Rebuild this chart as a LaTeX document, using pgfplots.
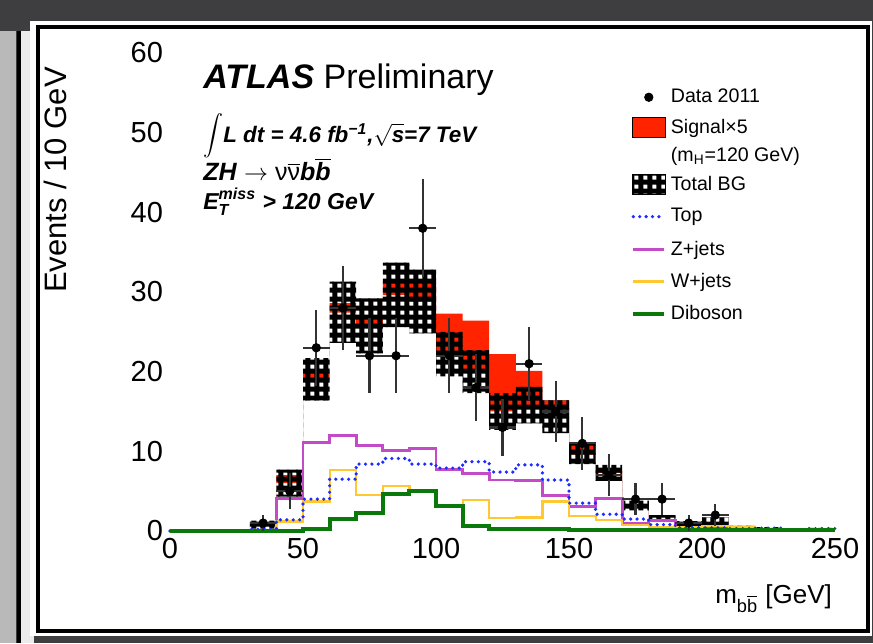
\documentclass[border=0pt]{standalone}
\usepackage{fontspec}
\setmainfont{Liberation Sans}
\usepackage{graphicx}
\usepackage{pgfplots}
\pgfplotsset{compat=1.18}
\usepackage{pgfplotstable}
\usepgfplotslibrary{fillbetween}
\usetikzlibrary{patterns}

\definecolor{sigred}{RGB}{255,35,0}
\definecolor{zmag}{RGB}{195,75,200}
\definecolor{topblue}{RGB}{30,45,255}
\definecolor{wyellow}{RGB}{255,200,50}
\definecolor{dibgreen}{RGB}{10,120,10}
\definecolor{bgdark}{RGB}{62,62,64}

% black grid with white holes for the background uncertainty band;
% the bars overlap the tile edge so that no seams show between tiles
\pgfdeclarepatternformonly{bggrid}{\pgfqpoint{-0.3pt}{-0.3pt}}{\pgfqpoint{4.8pt}{4.8pt}}{\pgfqpoint{4.5pt}{4.5pt}}{%
  \pgfpathrectangle{\pgfqpoint{-0.3pt}{-0.3pt}}{\pgfqpoint{5.1pt}{2.5pt}}%
  \pgfpathrectangle{\pgfqpoint{-0.3pt}{-0.3pt}}{\pgfqpoint{2.5pt}{5.1pt}}%
  \pgfusepath{fill}}

\pgfplotsset{
  zstyle/.style={zmag, line width=1.4pt},
  topstyle/.style={topblue, line width=1.8pt, line cap=round, dash pattern=on 0pt off 3.2pt},
  wstyle/.style={wyellow, line width=1.1pt},
  dibstyle/.style={dibgreen, line width=2pt},
  legbox/.style={legend image code/.code={\path[##1] (0pt,-5pt) rectangle (16.5pt,5pt);}},
  legline/.style={legend image code/.code={\path (0pt,-5pt) (16.5pt,5pt);\draw[##1] (0.5pt,0pt) -- (16pt,0pt);}},
  legdot/.style={legend image code/.code={\path (0pt,-5pt) (16.5pt,5pt);\draw[mark repeat=2,mark phase=2,##1] plot coordinates {(0pt,0pt) (8.25pt,0pt) (16.5pt,0pt)};}},
}

% bin low edge, Z+jets, top, W+jets, diboson, total BG, band low/high, BG + 5 x signal
\pgfplotstableread{
x   z     top   w     dib   bg    bglo  bghi  sig
0   0     0     0     0     0     0     0     0
10  0     0     0     0     0     0     0     0
20  0     0     0     0     0     0     0     0
30  0.1   0.2   0.1   0     0.8   0.3   1.3   0.9
40  4.1   1.4   1.2   0     6.0   4.3   7.7   7.0
50  11.1  4.0   3.7   0.3   19.0  16.4  21.7  20.0
60  12.0  6.5   7.7   1.5   27.4  23.6  31.3  28.6
70  10.7  8.4   4.5   2.2   25.7  22.3  29.2  26.6
80  10.1  9.1   5.6   4.7   29.6  25.6  33.7  31.3
90  10.4  8.4   5.0   5.0   28.8  24.8  32.8  31.1
100 7.7   7.9   3.2   3.2   22.2  19.4  25.0  27.3
110 7.2   8.7   3.9   0.6   20.0  17.3  22.7  26.4
120 6.4   7.4   1.6   0.2   15.0  12.7  17.3  22.2
130 6.3   8.3   1.7   0.2   15.8  13.5  18.1  20.1
140 4.5   6.4   3.7   0.2   14.4  12.3  16.4  16.4
150 3.1   3.5   1.9   0.15  9.6   8.4   10.9  10.9
160 4.1   2.1   1.4   0.1   7.3   6.3   8.3   7.6
170 1.0   1.5   0.8   0.1   3.2   2.6   3.8   3.3
180 1.3   0.8   0.5   0.1   1.7   1.4   2.0   1.7
190 0.4   0.4   0.5   0.1   0.9   0.55  1.25  0.9
200 0.4   0.4   0.6   0.1   1.1   0.5   1.7   1.1
210 0.3   0.3   0.5   0.1   0.5   0.35  0.65  0.5
220 0.1   0.35  0.1   0.1   0.4   0.3   0.5   0.4
230 0.05  0.1   0.05  0.1   0.2   0.1   0.3   0.2
240 0.1   0.3   0.1   0.1   0.3   0.2   0.4   0.3
250 0.1   0.3   0.1   0.1   0.3   0.2   0.4   0.3
}\hist

% data 2011: bin centre, events, half bin width, statistical error
\pgfplotstableread{
x   y   ex  ey
35  1   5   1.00
45  5   5   2.24
55  23  5   4.80
65  28  5   5.29
75  22  5   4.69
85  22  5   4.69
95  38  5   6.16
105 22  5   4.69
115 18  5   4.24
125 13  5   3.61
135 21  5   4.58
145 15  5   3.87
155 11  5   3.32
165 7   5   2.65
175 4   5   2.00
185 4   5   2.00
195 1   5   1.00
205 2   5   1.41
}\data

\begin{document}
\begin{tikzpicture}[x=1pt,y=1pt]
\fill[bgdark] (0,0) rectangle (436.5,321.5);
% edge of the neighbouring slide
\fill[gray!55] (0,0) rectangle (8,306);
\fill[white!92!black] (10,0) rectangle (17,306);
\draw[black, line width=1.8pt] (9.5,0) -- (9.5,306);
% slide panel
\fill[white] (15,3.5) rectangle (436,311);
\draw[black, line width=2.2pt] (434,6) -- (19,6) -- (19,308) -- (434,308) -- cycle;

\begin{axis}[
  at={(85pt,56pt)}, anchor=south west,
  scale only axis, width=332.5pt, height=239pt,
  xmin=0, xmax=250, ymin=0, ymax=60,
  xtick={0,50,...,250}, ytick={0,10,...,60},
  minor x tick num=4, minor y tick num=4,
  tick align=inside,
  xtick style={/pgfplots/major tick length=6pt, /pgfplots/minor tick length=3pt, black!70, line width=0.8pt},
  ytick style={/pgfplots/major tick length=9pt, /pgfplots/minor tick length=4pt, black!70, line width=0.8pt},
  axis line style={black!70, line width=0.8pt},
  /pgf/number format/assume math mode=true,
  ticklabel style={font=\fontsize{14.5}{16}\selectfont},
  clip=false,
  fill between/on layer=main,
  ylabel={Events / 10 GeV},
  ylabel style={font=\fontsize{15.5}{18}\selectfont, at={(axis description cs:-0.173,0.985)}, anchor=east},
  xlabel={m\textsubscript{b$\overline{\mbox{b}}$} [GeV]},
  xlabel style={font=\fontsize{13}{15}\selectfont, at={(axis description cs:1.006,-0.151)}, anchor=base east},
  legend style={at={(axis cs:172.9,55.8)}, anchor=north west, draw=none, fill=none,
    inner sep=0pt, row sep=4.8pt, column sep=1.8pt,
    font=\fontsize{9.8}{12}\selectfont, cells={anchor=west}, nodes={inner sep=0pt}},
]
% signal stacked on the background
\addplot[draw=none, const plot, name path=bgc, forget plot] table[x=x, y=bg] {\hist};
\addplot[draw=none, const plot, name path=sigtop, forget plot] table[x=x, y=sig] {\hist};
\addplot[fill=sigred, draw=none, forget plot] fill between[of=sigtop and bgc];
% total background with its uncertainty
\addplot[draw=none, const plot, name path=bghi, forget plot] table[x=x, y=bghi] {\hist};
\addplot[draw=none, const plot, name path=bglo, forget plot] table[x=x, y=bglo] {\hist};
\addplot[pattern=bggrid, draw=none, forget plot] fill between[of=bghi and bglo];
% background components
\addplot[const plot, zstyle, forget plot] table[x=x, y=z] {\hist};
\addplot[const plot, wstyle, forget plot] table[x=x, y=w] {\hist};
\addplot[const plot, topstyle, forget plot] table[x=x, y=top] {\hist};
\addplot[const plot, dibstyle, forget plot] table[x=x, y=dib] {\hist};
% data
\addplot[only marks, mark=*, mark size=2.1pt, black, forget plot,
  error bars/.cd, x dir=both, x explicit, y dir=both, y explicit,
  error mark=none, error bar style={line width=1.1pt, black!80}]
  table[x=x, y=y, x error=ex, y error=ey] {\data};

\addlegendimage{legdot, only marks, mark=*, mark size=2.1pt, black}
\addlegendentry{Data 2011}
\addlegendimage{legbox, fill=sigred}
\addlegendentry{Signal×5}
\addlegendimage{empty legend}
\addlegendentry{(m\textsubscript{H}=120 GeV)}
\addlegendimage{legbox, pattern=bggrid}
\addlegendentry{Total BG}
\addlegendimage{legline, topstyle}
\addlegendentry{Top}
\addlegendimage{legline, zstyle}
\addlegendentry{Z+jets}
\addlegendimage{legline, wstyle}
\addlegendentry{W+jets}
\addlegendimage{legline, dibstyle}
\addlegendentry{Diboson}

\node[anchor=base west, inner sep=0pt, font=\fontsize{17}{19}\selectfont] at (axis cs:12.4,55.5)
  {\textbf{\textit{ATLAS}} Preliminary};
\node[anchor=west, inner sep=0pt, font=\fontsize{11.5}{12}\selectfont] at (axis cs:12.4,49.6) {$\displaystyle\int$};
\node[anchor=base west, inner sep=0pt, font=\fontsize{11.2}{13}\selectfont\bfseries\itshape] at (axis cs:19.9,48.8)
  {L dt = 4.6 fb\textsuperscript{−1},$\sqrt{\mbox{s}}$=7 TeV};
\node[anchor=base west, inner sep=0pt, font=\fontsize{12.5}{14}\selectfont] at (axis cs:12.4,44.0)
  {\textbf{\textit{ZH}} $\rightarrow$ ν$\overline{\mbox{ν}}$\textbf{\textit{b$\overline{\mbox{b}}$}}};
\node[anchor=base west, inner sep=0pt, font=\fontsize{11.5}{13}\selectfont\bfseries\itshape] at (axis cs:12.4,40.4)
  {$\mbox{E}^{\mbox{\fontsize{8}{8}\selectfont miss}}_{\mbox{\fontsize{8}{8}\selectfont T}}$ > 120 GeV};
\end{axis}
\pgfresetboundingbox
\useasboundingbox (0,0) rectangle (436.5,321.5);
\end{tikzpicture}
\end{document}
